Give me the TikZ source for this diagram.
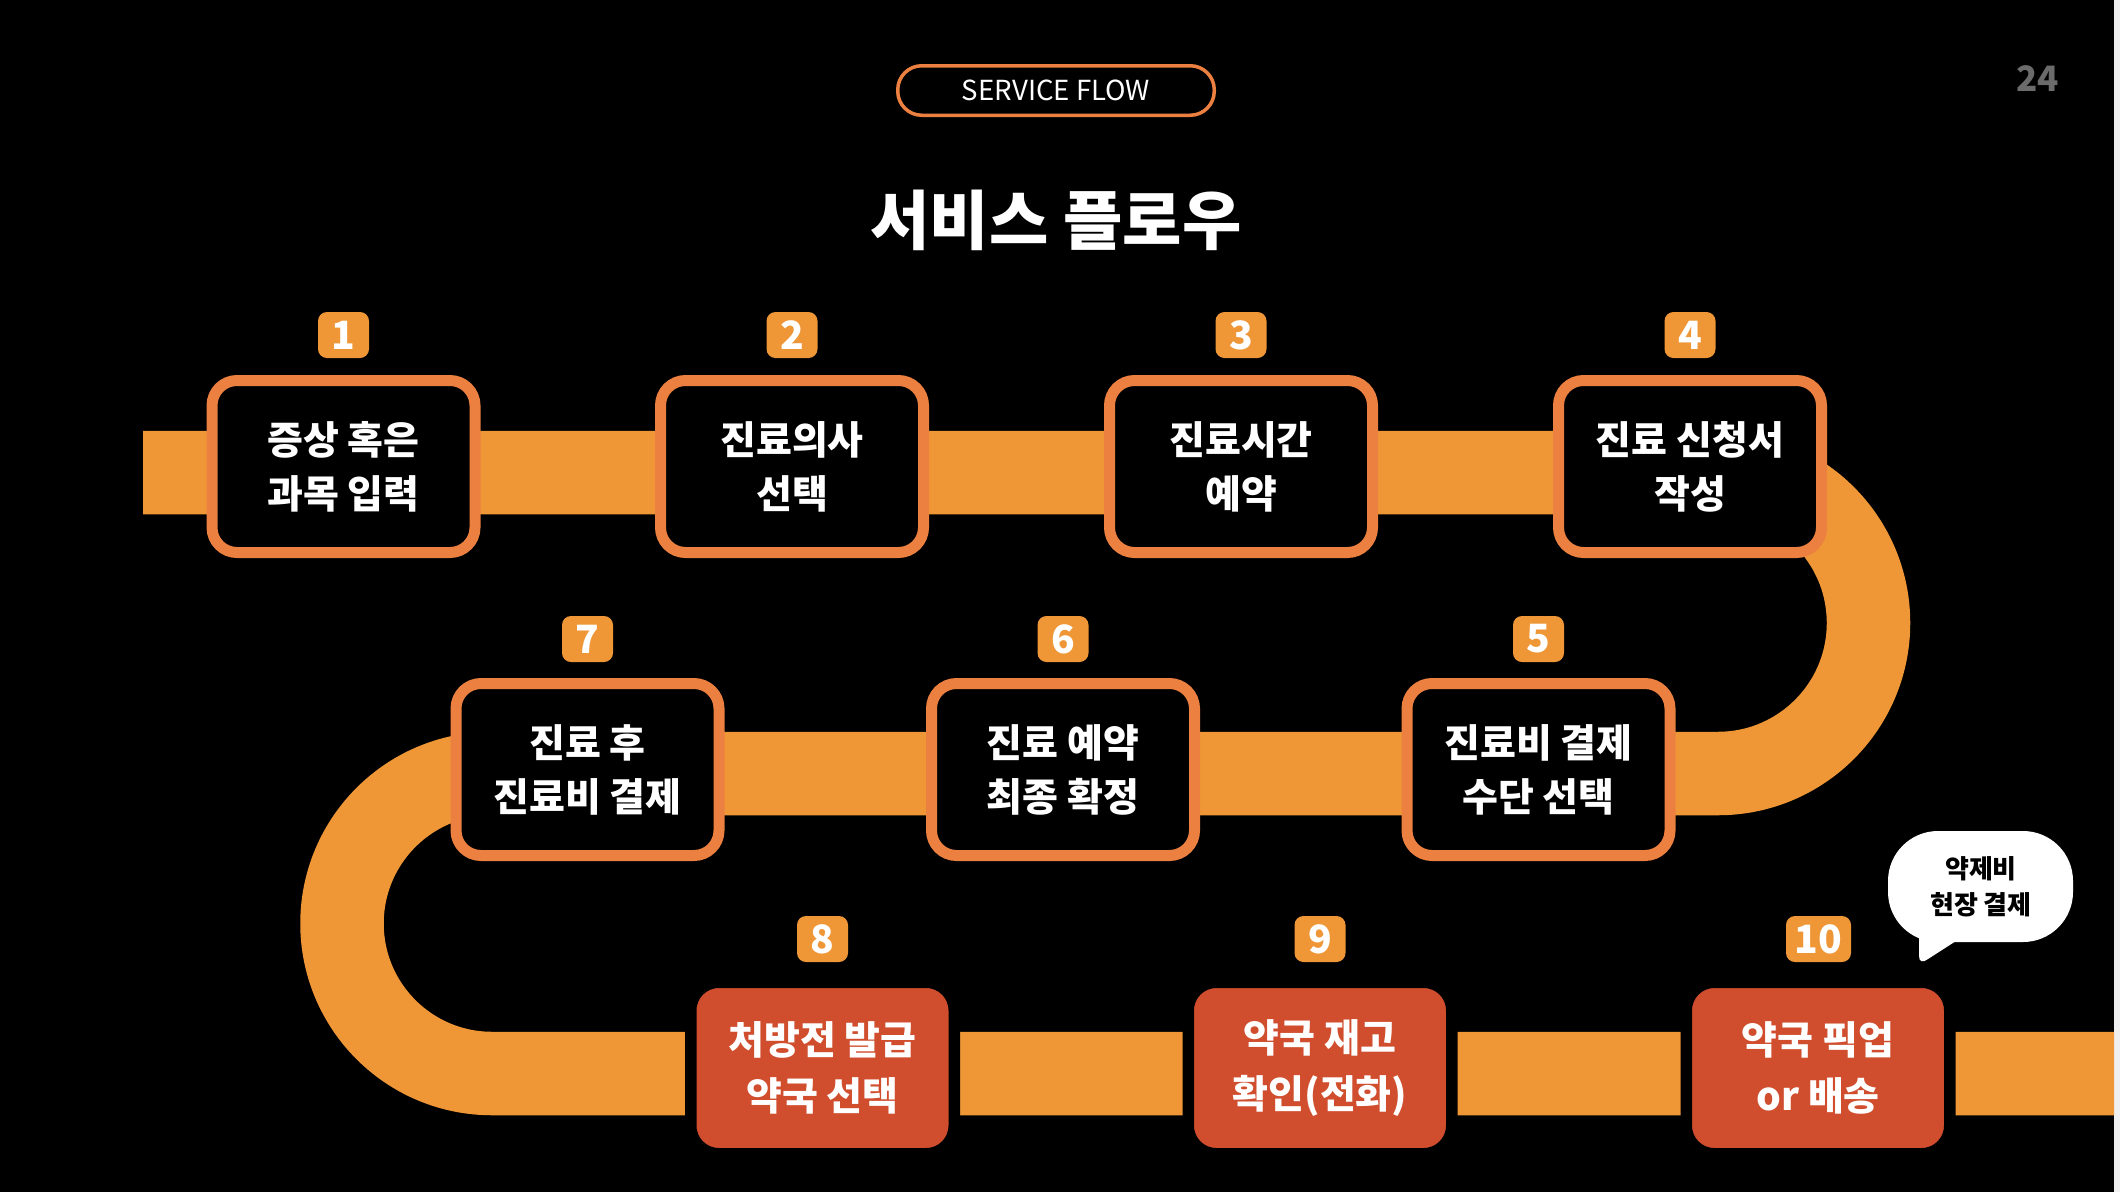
\documentclass[tikz,border=0pt]{standalone}
\usepackage{fontspec}
\setmainfont{Noto Sans CJK KR}
\definecolor{bandorange}{HTML}{EF9737}
\definecolor{boxorange}{HTML}{EC8040}
\definecolor{boxred}{HTML}{D04E2E}
\definecolor{pagegray}{HTML}{6B6B6B}
\definecolor{edgegray}{HTML}{F0F0F0}
\tikzset{
  band/.style={draw=bandorange, line width=83.5pt, line cap=butt, line join=round},
  stepbox/.style={draw=boxorange, line width=11pt, fill=black, rounded corners=25pt,
    minimum width=263pt, minimum height=172pt, inner sep=0pt, text=white, align=center,
    font=\fontsize{39pt}{54pt}\selectfont\bfseries},
  redbox/.style={draw=black, line width=11.5pt, fill=boxred, rounded corners=28pt,
    minimum width=263.5pt, minimum height=171.5pt, inner sep=0pt, text=white, align=center,
    font=\fontsize{39pt}{56pt}\selectfont\bfseries},
  badge/.style={fill=bandorange, rounded corners=9pt, minimum width=51pt, minimum height=46pt,
    inner sep=0pt, text=white, font=\fontsize{39pt}{40pt}\selectfont\bfseries},
}
\begin{document}
\begin{tikzpicture}[x=1pt,y=-1pt]
\useasboundingbox (0,0) rectangle (2120,1192);
\fill[black] (0,0) rectangle (2120,1192);
\fill[edgegray] (2114,0) rectangle (2120,1192);

% band coordinates
\coordinate (p0) at (143,472.5);
\coordinate (p1) at (1718,472.5);
\coordinate (p2) at (1868.5,623);
\coordinate (p3) at (1718,773.5);
\coordinate (p4) at (492,773.5);
\coordinate (p5) at (342,923.5);
\coordinate (p6) at (492,1073.5);
\coordinate (p7) at (2114,1073.5);
\draw[band] (p0) -- (p1) .. controls (1801.1,472.5) and (1868.5,539.9) .. (p2)
  .. controls (1868.5,706.1) and (1801.1,773.5) .. (p3) -- (p4)
  .. controls (409.15,773.5) and (342,840.65) .. (p5)
  .. controls (342,1006.35) and (409.15,1073.5) .. (p6) -- (p7);

% header
\node[draw=boxorange, line width=3.5pt, rounded corners=24pt, minimum width=316.5pt,
  minimum height=49.5pt, inner sep=0pt, text=white, font=\fontsize{27.6pt}{30pt}\selectfont]
  (tag) at (1056,90.5) {SERVICE FLOW};
\node[text=white, font=\fontsize{64.5pt}{68pt}\selectfont\bfseries] (title) at (1056,220) {서비스 플로우};
\node[text=pagegray, font=\fontsize{35pt}{36pt}\selectfont\bfseries] (page) at (2037.5,78.5) {24};

% row 1
\node[stepbox] (s1) at (343.5,466.5) {증상 혹은\\과목 입력};
\node[stepbox] (s2) at (792,466.5) {진료의사\\선택};
\node[stepbox] (s3) at (1241,466.5) {진료시간\\예약};
\node[stepbox] (s4) at (1690,466.5) {진료 신청서\\작성};
% row 2
\node[stepbox] (s5) at (1538.5,769.5) {진료비 결제\\수단 선택};
\node[stepbox] (s6) at (1063,769.5) {진료 예약\\최종 확정};
\node[stepbox] (s7) at (587.5,769.5) {진료 후\\진료비 결제};
% row 3
\node[redbox] (s8) at (822.5,1068) {처방전 발급\\약국 선택};
\node[redbox] (s9) at (1320,1068) {약국 재고\\확인(전화)};
\node[redbox] (s10) at (1818,1068) {약국 픽업\\or 배송};

% badges
\node[badge] (b1) at (343.5,335) {1};
\node[badge] (b2) at (792,335) {2};
\node[badge] (b3) at (1241,335) {3};
\node[badge] (b4) at (1690,335) {4};
\node[badge] (b5) at (1538.5,639) {5};
\node[badge] (b6) at (1063,639) {6};
\node[badge] (b7) at (587.5,639) {7};
\node[badge] (b8) at (822.5,939) {8};
\node[badge] (b9) at (1320,939) {9};
\node[badge, minimum width=65pt] (b10) at (1818.5,939) {10};

% speech bubble
\fill[white, rounded corners=50pt] (1888,831) rectangle (2073,942);
\fill[white] (1919,925) -- (1919,956) .. controls (1919,962) and (1923,963) .. (1928,959)
  -- (1956,941) -- (1956,925) -- cycle;
\node[text=black, align=center, font=\fontsize{26pt}{36pt}\selectfont\bfseries] (bubble)
  at (1981,887) {약제비\\현장 결제};
\end{tikzpicture}
\end{document}
